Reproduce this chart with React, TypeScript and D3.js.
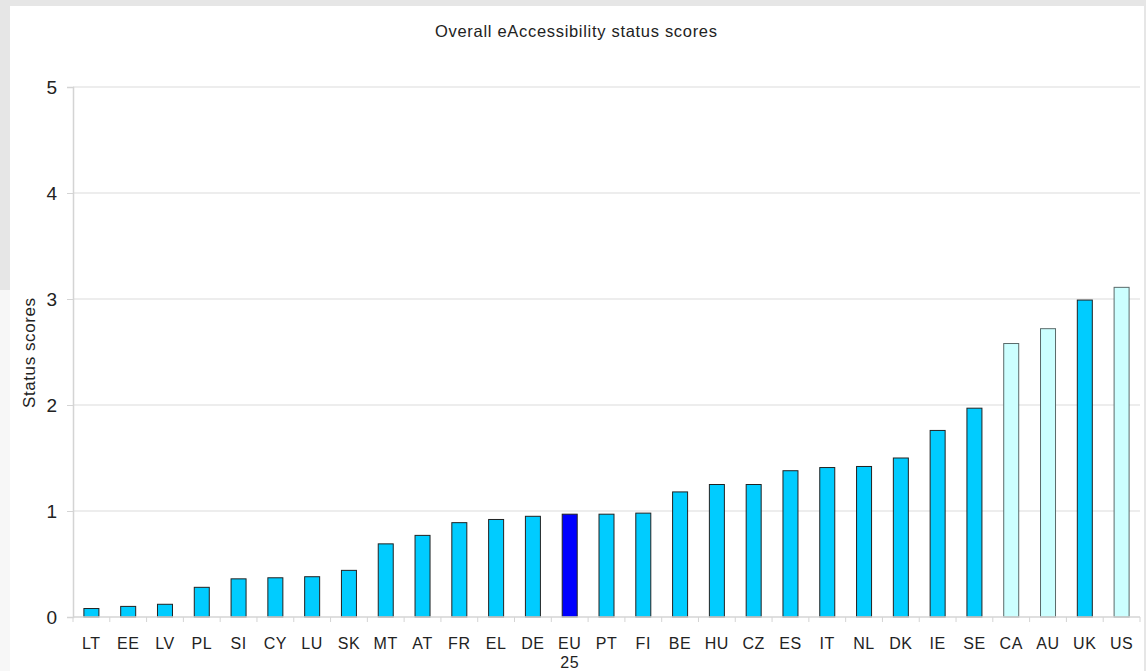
import { useEffect, useRef } from "react";
import * as d3 from "d3";

const countries = ["LT", "EE", "LV", "PL", "SI", "CY", "LU", "SK", "MT", "AT", "FR", "EL", "DE", "EU 25", "PT", "FI", "BE", "HU", "CZ", "ES", "IT", "NL", "DK", "IE", "SE", "CA", "AU", "UK", "US"];
const scores = [0.08, 0.1, 0.12, 0.28, 0.36, 0.37, 0.38, 0.44, 0.69, 0.77, 0.89, 0.92, 0.95, 0.97, 0.97, 0.98, 1.18, 1.25, 1.25, 1.38, 1.41, 1.42, 1.5, 1.76, 1.97, 2.58, 2.72, 2.99, 3.11];
const nonEu = ["CA", "AU", "US"];
const yTicks = [0, 1, 2, 3, 4, 5];

const W = 1146;
const H = 671;

export default function App() {
  const svgRef = useRef<SVGSVGElement>(null);

  useEffect(() => {
    if (!svgRef.current) return;
    const svg = d3.select(svgRef.current);
    svg.selectAll("*").remove();

    const font = "'Liberation Sans', Arial, sans-serif";
    const margin = { left: 73, right: 6, top: 87, bottom: 54 };
    const x0 = margin.left;
    const x1 = W - margin.right;
    const yBase = H - margin.bottom;

    // frame
    svg.append("rect").attr("width", W).attr("height", H).attr("fill", "#e6e6e6");
    svg.append("rect").attr("x", 10).attr("y", 6).attr("width", 1134).attr("height", H - 6).attr("fill", "#fff");
    svg.append("rect").attr("x", 0).attr("y", 290).attr("width", 10).attr("height", H - 290).attr("fill", "#f7f7f7");

    const x = d3.scaleBand<string>().domain(countries).range([x0, x1]);
    const y = d3.scaleLinear().domain([0, 5]).range([yBase, margin.top]);

    // gridlines
    svg.append("g")
      .selectAll("line")
      .data(yTicks.filter((t) => t > 0))
      .join("line")
      .attr("x1", x0)
      .attr("x2", x1)
      .attr("y1", (d) => y(d))
      .attr("y2", (d) => y(d))
      .attr("stroke", "#dcdcdc")
      .attr("stroke-width", 1.2);

    // y axis
    const yAxis = svg.append("g")
      .attr("transform", `translate(${x0},0)`)
      .call(d3.axisLeft(y).tickValues(yTicks).tickSize(6).tickPadding(10).tickFormat(d3.format("d")));
    yAxis.select(".domain").attr("stroke", "#d4d4d4").attr("stroke-width", 1.5);
    yAxis.selectAll(".tick line").attr("stroke", "#d4d4d4");
    yAxis.selectAll(".tick text").attr("fill", "#222").attr("font-size", 19).attr("font-family", font);

    // bars
    svg.append("g")
      .selectAll("rect")
      .data(countries)
      .join("rect")
      .attr("x", (d) => (x(d) as number) + x.bandwidth() / 2 - 7.5)
      .attr("width", 15)
      .attr("y", (d, i) => y(scores[i]))
      .attr("height", (d, i) => yBase - y(scores[i]))
      .attr("fill", (d) => (d === "EU 25" ? "#0000ff" : nonEu.includes(d) ? "#ccffff" : "#00ccff"))
      .attr("stroke", (d) => (nonEu.includes(d) ? "#5a6a6a" : "#222"))
      .attr("stroke-width", 1);

    // x axis
    svg.append("line")
      .attr("x1", x0).attr("x2", x1)
      .attr("y1", yBase).attr("y2", yBase)
      .attr("stroke", "#d4d4d4").attr("stroke-width", 1.5);
    svg.append("g")
      .selectAll("line")
      .data(countries.concat(["end"]))
      .join("line")
      .attr("x1", (d, i) => x0 + i * x.step())
      .attr("x2", (d, i) => x0 + i * x.step())
      .attr("y1", yBase)
      .attr("y2", yBase + 5)
      .attr("stroke", "#d4d4d4");

    const labels = svg.append("g")
      .selectAll("text")
      .data(countries)
      .join("text")
      .attr("x", (d) => (x(d) as number) + x.bandwidth() / 2)
      .attr("y", yBase + 32)
      .attr("text-anchor", "middle")
      .attr("font-size", 16)
      .attr("letter-spacing", 0.6)
      .attr("font-family", font)
      .attr("fill", "#222");
    labels.each(function (d) {
      const parts = d.split(" ");
      const t = d3.select(this);
      parts.forEach((p, i) => {
        t.append("tspan")
          .attr("x", (x(d) as number) + x.bandwidth() / 2)
          .attr("dy", i === 0 ? 0 : 19)
          .text(p);
      });
    });

    // title
    svg.append("text")
      .attr("x", 576)
      .attr("y", 37)
      .attr("text-anchor", "middle")
      .attr("font-size", 16.5)
      .attr("textLength", 282)
      .attr("font-family", font)
      .attr("fill", "#222")
      .text("Overall eAccessibility status scores");

    // y label
    svg.append("text")
      .attr("transform", `translate(35,353) rotate(-90)`)
      .attr("text-anchor", "middle")
      .attr("font-size", 17)
      .attr("textLength", 110)
      .attr("font-family", font)
      .attr("fill", "#222")
      .text("Status scores");
  }, []);

  return (
    <div style={{ position: "absolute", left: 0, top: 0 }}>
      <svg ref={svgRef} width={W} height={H} style={{ display: "block" }} />
    </div>
  );
}
